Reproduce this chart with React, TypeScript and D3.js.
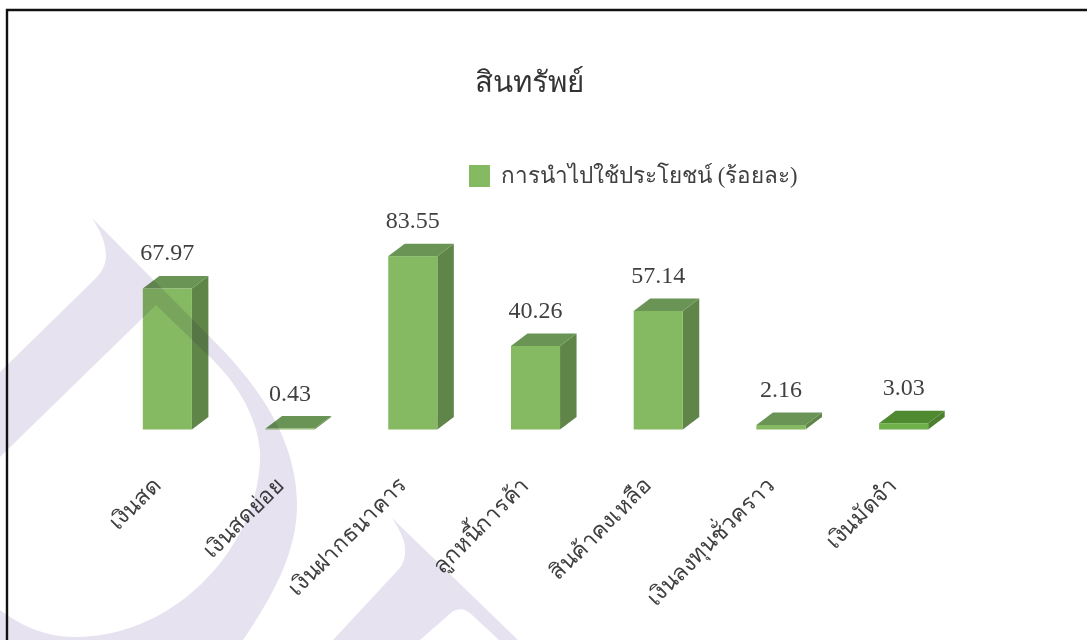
import React, { useEffect, useRef } from 'react';
import * as d3 from 'd3';

const categories = ['เงินสด', 'เงินสดย่อย', 'เงินฝากธนาคาร', 'ลูกหนี้การค้า', 'สินค้าคงเหลือ', 'เงินลงทุนชั่วคราว', 'เงินมัดจำ'];
const values = [67.97, 0.43, 83.55, 40.26, 57.14, 2.16, 3.03];
const title = 'สินทรัพย์';
const seriesName = 'การนำไปใช้ประโยชน์ (ร้อยละ)';

const width = 1087;
const height = 640;
const baseY = 429.5;
const depthX = 16.5;
const depthY = 12.5;
const font = '"Liberation Serif", "Times New Roman", serif';

// watermark logo, sits over the chart in multiply
const logoA = 'M92 218 L213 340 C265 392 297 445 297 505 C297 555 270 600 243 640 L0 640 L0 372 L95 279 C101 273 106 265 106 256 C106 243 100 230 92 218 Z M156 305 L0 457 L0 610 C20 625 45 637 75 637 C180 637 262 540 260 453 C258 420 240 387 213 360 Z';
const logoB = 'M392 518 L518 640 L499 640 L471 614 C465 608 458 608 452 612 L420 640 L333 640 L398 570 C402 566 405 560 405 552 C406 542 400 530 392 518 Z';

const App = () => {
    const svgRef = useRef<SVGSVGElement>(null);

    useEffect(() => {
        if (!svgRef.current) return;
        const svg = d3.select(svgRef.current);
        svg.selectAll('*').remove();

        const x = d3.scaleBand().domain(categories).range([106, 965]).paddingInner(0.6).paddingOuter(0.3);
        const y = d3.scaleLinear().domain([0, 100]).range([baseY, baseY - 207.5]);
        const poly = d3.line();

        // frame
        svg.append('path').attr('d', 'M7 640 L7 10 L1087 10').attr('fill', 'none').attr('stroke', '#111').attr('stroke-width', 2.4);

        svg.append('text').attr('x', 529).attr('y', 92).attr('text-anchor', 'middle')
            .attr('font-size', 29.5).attr('fill', '#333').text(title);

        // legend
        svg.append('rect').attr('x', 469).attr('y', 165).attr('width', 21).attr('height', 22).attr('fill', '#85b962');
        svg.append('text').attr('x', 501).attr('y', 183).attr('font-size', 22.5).attr('fill', '#404040').text(seriesName);

        const bars = svg.selectAll('g.bar')
            .data(categories.map((name, i) => ({ name, value: values[i] })))
            .enter().append('g').attr('class', 'bar');

        bars.each(function (d) {
            const g = d3.select(this);
            const x0 = x(d.name) as number;
            const x1 = x0 + x.bandwidth();
            const top = y(d.value);
            const strong = d.name === 'เงินมัดจำ';
            g.append('path')
                .attr('d', poly([[x1, baseY], [x1 + depthX, baseY - depthY], [x1 + depthX, top - depthY], [x1, top]]) + 'Z')
                .attr('fill', strong ? '#4c7f2e' : '#5f8549');
            g.append('path')
                .attr('d', poly([[x0, top], [x0 + depthX, top - depthY], [x1 + depthX, top - depthY], [x1, top]]) + 'Z')
                .attr('fill', strong ? '#4f8a30' : '#6a9455');
            g.append('rect').attr('x', x0).attr('y', top).attr('width', x1 - x0).attr('height', baseY - top)
                .attr('fill', strong ? '#70b04a' : '#85b962');
            g.append('text')
                .attr('x', (x0 + x1) / 2)
                .attr('y', top - depthY - 15.5)
                .attr('text-anchor', 'middle')
                .attr('font-size', 24)
                .attr('fill', '#404040')
                .text(d.value.toFixed(2));
        });

        // category axis, labels only
        const axis = svg.append('g')
            .attr('transform', `translate(0, ${baseY})`)
            .call(d3.axisBottom(x).tickSize(0).tickPadding(0));
        axis.select('.domain').remove();
        axis.selectAll('text')
            .attr('font-family', font)
            .attr('font-size', 22.5)
            .attr('fill', '#404040')
            .attr('text-anchor', 'end')
            .attr('dy', 0)
            .attr('transform', 'translate(-5, 57) rotate(-45)');

        const logo = svg.append('g').style('mix-blend-mode', 'multiply').attr('fill', '#e6e2ef');
        logo.append('path').attr('d', logoA).attr('fill-rule', 'evenodd');
        logo.append('path').attr('d', logoB);
    }, []);

    return (
        <svg
            ref={svgRef}
            width={width}
            height={height}
            viewBox={`0 0 ${width} ${height}`}
            fontFamily={font}
            style={{ position: 'absolute', left: 0, top: 0, background: '#fff' }}
        />
    );
};

export default App;
